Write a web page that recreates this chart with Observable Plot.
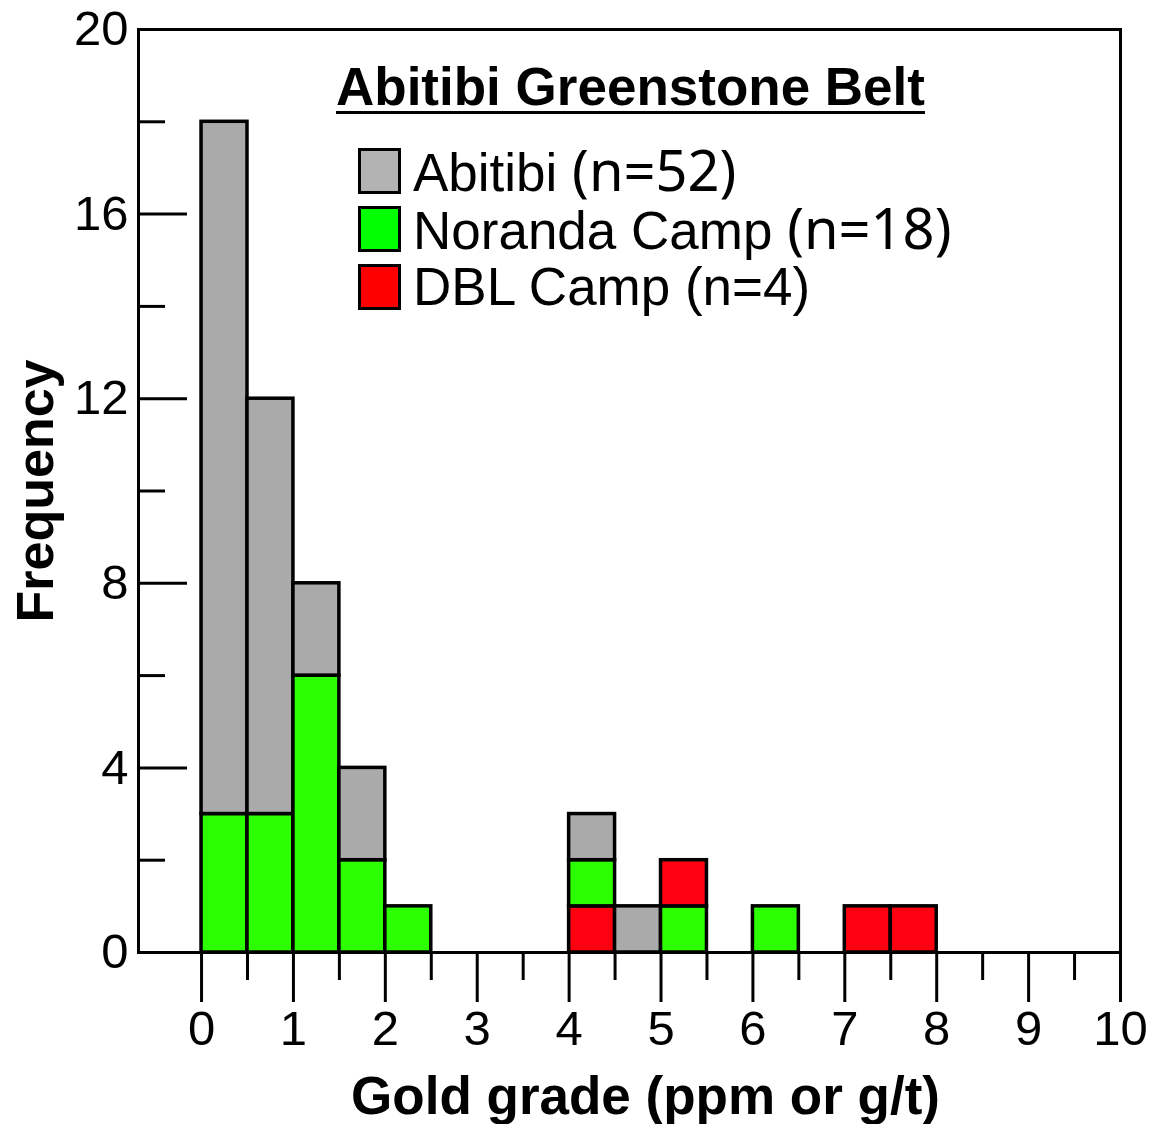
<!DOCTYPE html>
<html>
<head>
<meta charset="utf-8">
<script src="https://cdn.jsdelivr.net/npm/d3@7"></script>
<script src="https://cdn.jsdelivr.net/npm/@observablehq/plot@0.6"></script>
<style>
  body { margin: 0; background: #fff; }
  #wrap { position: relative; width: 1166px; height: 1124px; }
  #legend { position: absolute; left: 0; top: 0; font-family: "Liberation Sans", Arial, sans-serif; color: #000; }
  .ttl { position: absolute; left: 336px; top: 60px; font-size: 53px; font-weight: bold; white-space: nowrap; line-height: 53px;
         text-decoration: underline; text-decoration-thickness: 3px; text-underline-offset: 6px; }
  .row { position: absolute; left: 358px; white-space: nowrap; display: flex; align-items: center; }
  .sw { width: 37px; height: 40px; border: 3px solid #000; margin-right: 12px; }
  .lab { font-size: 53px; line-height: 50px; }
  .n { font-family: "Noto Sans", "Open Sans", sans-serif; font-size: 56px; line-height: 50px; }
</style>
</head>
<body>
<div id="wrap"><div id="chart"></div><div id="legend"></div></div>
<script>
// ---- data ----
const binStarts = [0, 0, 0.5, 0.5, 1.0, 1.0, 1.5, 1.5, 2.0, 4.0, 4.0, 4.0, 4.5, 5.0, 5.0, 6.0, 7.0, 7.5];
const seriesOf  = ["Noranda Camp","Abitibi", "Noranda Camp","Abitibi", "Noranda Camp","Abitibi", "Noranda Camp","Abitibi",
                   "Noranda Camp", "DBL Camp","Noranda Camp","Abitibi", "Abitibi", "Noranda Camp","DBL Camp",
                   "Noranda Camp", "DBL Camp", "DBL Camp"];
const counts    = [3, 15, 3, 9, 6, 2, 2, 2, 1, 1, 1, 1, 1, 1, 1, 1, 1, 1];
const binWidth = 0.5;

const seriesNames = ["Abitibi", "Noranda Camp", "DBL Camp"];
const seriesN = ["(n=52)", "(n=18)", "(n=4)"];
const seriesColors = ["#aaaaaa", "#2cff00", "#ff0010"];
const legendColors = ["#b3b3b3", "#00ff00", "#ff0000"];

const xMajorTicks = [0, 1, 2, 3, 4, 5, 6, 7, 8, 9, 10];
const xMinorTicks = [0.5, 1.5, 2.5, 3.5, 4.5, 5.5, 6.5, 7.5, 8.5, 9.5];
const yMajorTicks = [0, 4, 8, 12, 16, 20];
const yMinorTicks = [2, 6, 10, 14, 18];

const table = binStarts.map((b, i) => ({bin: b, series: seriesOf[i], count: counts[i]}));

const W = 1166, H = 1124, mL = 138, mR = 46, mT = 29, mB = 172;
const innerW = W - mL - mR;

const chart = Plot.plot({
  width: W, height: H,
  marginLeft: mL, marginRight: mR, marginTop: mT, marginBottom: mB,
  style: {fontFamily: "'Liberation Sans', Arial, sans-serif", color: "#000", background: "#fff"},
  x: {domain: [-0.686, 10]},
  y: {domain: [0, 20]},
  color: {domain: seriesNames, range: seriesColors},
  marks: [
    Plot.rectY(table, {x1: "bin", x2: d => d.bin + binWidth, y: "count", fill: "series", stroke: "#000", strokeWidth: 3.5}),
    Plot.frame({stroke: "#000", strokeWidth: 3}),
    Plot.tickY(yMajorTicks, {y: d => d, insetRight: innerW - 49, stroke: "#000", strokeWidth: 3}),
    Plot.tickY(yMinorTicks, {y: d => d, insetRight: innerW - 27, stroke: "#000", strokeWidth: 3}),
    Plot.axisY({ticks: yMajorTicks, tickSize: 0, tickPadding: 10, fontSize: 49, label: null}),
    Plot.axisX({ticks: xMajorTicks, tickSize: 50, tickPadding: 8, strokeWidth: 3, fontSize: 49, label: null}),
    Plot.axisX({ticks: xMinorTicks, tickSize: 28, strokeWidth: 3, text: null, label: null}),
    Plot.text(["Gold grade (ppm or g/t)"], {frameAnchor: "bottom", dx: 16, dy: 145, fontSize: 53, fontWeight: "bold", lineAnchor: "middle"}),
    Plot.text(["Frequency"], {frameAnchor: "left", dx: -102, rotate: -90, fontSize: 52, fontWeight: "bold", textAnchor: "middle", lineAnchor: "middle"})
  ]
});
document.getElementById("chart").appendChild(chart);

// ---- legend ----
const legend = document.getElementById("legend");
const ttl = document.createElement("div");
ttl.className = "ttl";
ttl.textContent = "Abitibi Greenstone Belt";
legend.appendChild(ttl);
const rowTops = [144, 202, 262];
seriesNames.forEach((name, i) => {
  const row = document.createElement("div");
  row.className = "row";
  row.style.top = rowTops[i] + "px";
  const sw = document.createElement("div");
  sw.className = "sw";
  sw.style.background = legendColors[i];
  row.appendChild(sw);
  const lab = document.createElement("span");
  lab.className = "lab";
  const t1 = document.createElement("span");
  t1.textContent = name + "\u00a0";
  lab.appendChild(t1);
  const t2 = document.createElement("span");
  t2.className = i === 2 ? "" : "n";
  t2.textContent = seriesN[i];
  lab.appendChild(t2);
  row.appendChild(lab);
  legend.appendChild(row);
});
</script>
</body>
</html>
